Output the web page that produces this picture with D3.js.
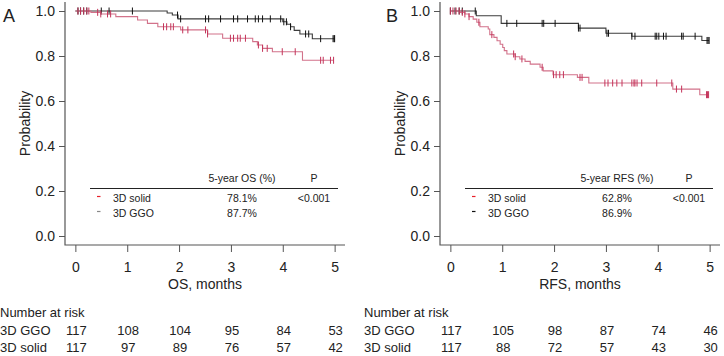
<!DOCTYPE html>
<html>
  <head>
    <meta charset="UTF-8" />
    <script src="https://d3js.org/d3.v7.min.js"></script>
    <style>
      body { margin: 0; background: #fff; }
      text { font-family: "Liberation Sans", Arial, sans-serif; fill: #222; }
    </style>
  </head>
  <body>
    <svg width="724" height="356"></svg>
    <script>
      // data: [time (months), survival]
      const timeTicks = [0, 1, 2, 3, 4, 5]
      const probTicks = [0, 0.2, 0.4, 0.6, 0.8, 1.0]

      // A: OS
      const osGgoSteps = [[0, 1], [1.77, 0.991], [1.87, 0.982], [1.98, 0.965], [4.0, 0.952], [4.08, 0.941],
        [4.15, 0.930], [4.22, 0.914], [4.33, 0.898], [4.57, 0.877]]
      const osGgoCensor = [0.05, 0.1, 0.16, 0.22, 0.5, 0.65, 1.1, 1.97, 2.03, 2.51, 2.57, 2.8, 3.05, 3.13,
        3.32, 3.47, 3.53, 3.61, 3.76, 3.96, 4.02, 4.07, 4.15, 4.44, 4.5, 4.73, 4.97, 4.99, 5.0]
      const osSolidSteps = [[0, 1], [0.3, 0.994], [0.49, 0.987], [0.78, 0.975], [1.2, 0.96], [1.39, 0.945],
        [1.59, 0.93], [2.03, 0.916], [2.55, 0.898], [2.84, 0.879], [3.42, 0.864], [3.51, 0.849],
        [3.61, 0.834], [3.8, 0.819], [4.38, 0.781]]
      const osSolidCensor = [0.05, 0.1, 0.16, 0.22, 0.26, 0.43, 0.49, 0.62, 0.68, 1.7, 1.76, 1.84, 1.89,
        2.07, 2.17, 2.51, 2.55, 2.99, 3.05, 3.13, 3.18, 3.28, 3.53, 3.61, 3.7, 3.99, 4.24, 4.73, 4.78,
        4.92, 4.98]

      // B: RFS
      const rfsGgoSteps = [[0, 1], [0.5, 0.979], [0.98, 0.945], [2.47, 0.924], [3.0, 0.901], [3.5, 0.888],
        [4.85, 0.869]]
      const rfsGgoCensor = [0.0, 0.09, 0.17, 0.23, 0.48, 1.09, 1.28, 1.77, 1.8, 2.02, 2.47, 2.5, 3.02,
        3.05, 3.5, 3.56, 3.95, 3.98, 4.02, 4.11, 4.16, 4.46, 4.49, 4.72, 4.95, 4.97, 4.99]
      const rfsSolidSteps = [[0, 1], [0.19, 0.994], [0.28, 0.987], [0.36, 0.975], [0.44, 0.964],
        [0.51, 0.95], [0.57, 0.93], [0.73, 0.92], [0.76, 0.895], [0.84, 0.883], [0.9, 0.868],
        [0.96, 0.852], [1.01, 0.838], [1.04, 0.824], [1.09, 0.809], [1.25, 0.797], [1.34, 0.787],
        [1.44, 0.776], [1.54, 0.764], [1.73, 0.75], [1.79, 0.734], [1.98, 0.717], [2.45, 0.705],
        [2.67, 0.68], [4.29, 0.653], [4.81, 0.628]]
      const rfsSolidCensor = [0.0, 0.05, 0.11, 0.17, 0.23, 0.28, 0.36, 0.55, 0.8, 1.22, 1.25, 1.38, 1.77,
        1.99, 2.04, 2.11, 2.18, 2.5, 2.54, 2.98, 3.04, 3.13, 3.21, 3.31, 3.5, 3.54, 3.56, 3.6, 3.69,
        3.98, 4.27, 4.36, 4.46, 4.94, 4.96, 4.98]

      const riskOsGgo = [117, 108, 104, 95, 84, 53]
      const riskOsSolid = [117, 97, 89, 76, 57, 42]
      const riskRfsGgo = [117, 105, 98, 87, 74, 46]
      const riskRfsSolid = [117, 88, 72, 57, 43, 30]

      const svg = d3.select("svg")
      const axisColor = "#555"
      const redLine = "#d2728a", redMark = "#c4345a"
      const blackLine = "#3c3c3c", blackMark = "#111"

      function survAt(steps, t) {
        let s = 1
        for (const st of steps) if (st[0] <= t) s = st[1]
        return s
      }

      function drawPanel(p) {
        const x = d3.scaleLinear().domain([-0.2, 5.2]).range([p.left, p.left + 280])
        const y = d3.scaleLinear().domain([-0.04, 1.04]).range([245, 2])
        const g = svg.append("g")

        // axes
        const ya = g.append("g").attr("transform", `translate(${p.left},0)`)
          .call(d3.axisLeft(y).tickValues(probTicks).tickFormat(d3.format(".1f")).tickSize(6).tickPadding(4))
        const xa = g.append("g").attr("transform", "translate(0,245)")
          .call(d3.axisBottom(x).tickValues(timeTicks).tickFormat(d3.format("d")).tickSize(7).tickPadding(10))
        for (const a of [ya, xa]) {
          a.select(".domain").remove()
          a.selectAll("line").attr("stroke", axisColor)
          a.selectAll("text").style("font-size", "14px").attr("fill", "#222")
        }
        g.append("path")
          .attr("d", `M${p.left},2V245H${p.left + 280}`)
          .attr("fill", "none").attr("stroke", axisColor).attr("stroke-width", 1.2)

        g.append("text").attr("x", p.letterX).attr("y", 22).text(p.letter).style("font-size", "18px")
        g.append("text")
          .attr("transform", `translate(${p.left - 35},${y(0.5)}) rotate(-90)`)
          .attr("text-anchor", "middle").style("font-size", "14px").text("Probability")
        g.append("text").attr("x", x(2.5)).attr("y", 289).attr("text-anchor", "middle")
          .style("font-size", "14px").text(p.xlabel)

        // curves
        const line = d3.line().curve(d3.curveStepAfter).x((d) => x(d[0])).y((d) => y(d[1]))
        const series = [
          { steps: p.ggoSteps, censor: p.ggoCensor, line: blackLine, mark: blackMark },
          { steps: p.solidSteps, censor: p.solidCensor, line: redLine, mark: redMark }
        ]
        for (const s of series) {
          const end = d3.max(s.censor)
          const pts = s.steps.concat([[end, s.steps[s.steps.length - 1][1]]])
          g.append("path").attr("d", line(pts)).attr("fill", "none")
            .attr("stroke", s.line).attr("stroke-width", 1.1)
          g.selectAll(null).data(s.censor).enter().append("line")
            .attr("x1", (d) => x(d)).attr("x2", (d) => x(d))
            .attr("y1", (d) => y(survAt(s.steps, d)) - 3.5)
            .attr("y2", (d) => y(survAt(s.steps, d)) + 3.5)
            .attr("stroke", s.mark).attr("stroke-width", 1)
        }

        // legend table
        const lx0 = p.left + 25, lx1 = p.left + 273
        const cVal = p.left + 177, cP = p.left + 249
        const lt = g.append("g").style("font-size", "10.5px")
        lt.append("text").attr("x", cVal).attr("y", 182).attr("text-anchor", "middle").text(p.legendHead)
        lt.append("text").attr("x", cP).attr("y", 182).attr("text-anchor", "middle").text("P")
        lt.append("line").attr("x1", lx0).attr("x2", lx1).attr("y1", 188.5).attr("y2", 188.5)
          .attr("stroke", "#222").attr("stroke-width", 1)
        const rows = [
          { name: "3D solid", val: p.solidPct, pv: "<0.001", col: "#e8202a", yy: 201.5 },
          { name: "3D GGO", val: p.ggoPct, pv: "", col: p.ggoDash, yy: 216.5 }
        ]
        for (const r of rows) {
          lt.append("line").attr("x1", lx0 + 7).attr("x2", lx0 + 10.5).attr("y1", r.yy - 5).attr("y2", r.yy - 5)
            .attr("stroke", r.col).attr("stroke-width", 1.2)
          lt.append("text").attr("x", lx0 + 23).attr("y", r.yy).text(r.name)
          lt.append("text").attr("x", cVal).attr("y", r.yy).attr("text-anchor", "middle").text(r.val)
          lt.append("text").attr("x", cP).attr("y", r.yy).attr("text-anchor", "middle").text(r.pv)
        }

        // number at risk
        const rk = g.append("g").style("font-size", "13px")
        rk.append("text").attr("x", p.tableX).attr("y", 317).text("Number at risk")
        const rr = [["3D GGO", p.riskGgo, 335], ["3D solid", p.riskSolid, 351.5]]
        for (const [lab, vals, yy] of rr) {
          rk.append("text").attr("x", p.tableX).attr("y", yy).text(lab)
          rk.selectAll(null).data(vals).enter().append("text")
            .attr("x", (d, i) => x(timeTicks[i]) + 1).attr("y", yy)
            .attr("text-anchor", "middle").text((d) => d)
        }
      }

      drawPanel({
        left: 65, letter: "A", letterX: 3, xlabel: "OS, months", legendHead: "5-year OS (%)",
        ggoSteps: osGgoSteps, ggoCensor: osGgoCensor, solidSteps: osSolidSteps, solidCensor: osSolidCensor,
        solidPct: "78.1%", ggoPct: "87.7%", ggoDash: "#888", tableX: 0,
        riskGgo: riskOsGgo, riskSolid: riskOsSolid
      })
      drawPanel({
        left: 440, letter: "B", letterX: 386, xlabel: "RFS, months", legendHead: "5-year RFS (%)",
        ggoSteps: rfsGgoSteps, ggoCensor: rfsGgoCensor, solidSteps: rfsSolidSteps, solidCensor: rfsSolidCensor,
        solidPct: "62.8%", ggoPct: "86.9%", ggoDash: "#111", tableX: 364,
        riskGgo: riskRfsGgo, riskSolid: riskRfsSolid
      })
    </script>
  </body>
</html>
